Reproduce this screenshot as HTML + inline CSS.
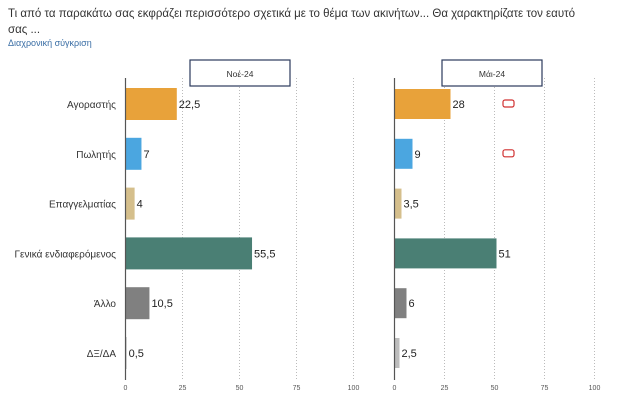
<!DOCTYPE html>
<html><head><meta charset="utf-8"><style>
body{margin:0;width:624px;height:401px;background:#fff;overflow:hidden;font-family:"Liberation Sans","DejaVu Sans",sans-serif}
</style></head><body>
<svg id="c" width="624" height="401" xmlns="http://www.w3.org/2000/svg">
<text x="8" y="17" font-size="11.5" fill="#333">Τι από τα παρακάτω σας εκφράζει περισσότερο σχετικά με το θέμα των ακινήτων... Θα χαρακτηρίζατε τον εαυτό</text>
<text x="8" y="33" font-size="11.5" fill="#333">σας ...</text>
<text x="8" y="46" font-size="9" fill="#3A6EA5">Διαχρονική σύγκριση</text>
</svg>
<script>
const categories=["Αγοραστής","Πωλητής","Επαγγελματίας","Γενικά ενδιαφερόμενος","Άλλο","ΔΞ/ΔΑ"];
const nov24=[22.5,7,4,55.5,10.5,0.5];
const may24=[28,9,3.5,51,6,2.5];
const novLabels=["22,5","7","4","55,5","10,5","0,5"];
const mayLabels=["28","9","3,5","51","6","2,5"];
const ticks=[0,25,50,75,100];
const colors=["#E8A23A","#4BA6E0","#D5BF8C","#4A7F74","#808080","#BDBDBD"];
const svg=document.getElementById('c');
const NS="http://www.w3.org/2000/svg";
function mk(t,a,p){const e=document.createElementNS(NS,t);for(const k in a)e.setAttribute(k,a[k]);(p||svg).appendChild(e);return e;}
const rowY=i=>104+i*49.8;
function panel(x0,scale,vals,labs,title,bx,bh,name){
  const x=v=>x0+v*scale;
  const g=mk('g',{});
  
  
  ticks.forEach(t=>{
    if(t>0){const l=mk('line',{x1:x(t),x2:x(t),y1:78,y2:380,stroke:'#bbb','stroke-dasharray':'1,2'},g);
    }
    const tx=mk('text',{x:x(t),y:390,'font-size':7,fill:'#555','text-anchor':'middle'},g);
    tx.textContent=t;
    
  });
  vals.forEach((v,i)=>{
    const r=mk('rect',{x:x0,y:rowY(i)-bh/2,width:Math.max(x(v)-x0,1),height:bh,fill:colors[i]},g);
    
    const t=mk('text',{x:x(v)+2,y:rowY(i)+4,'font-size':11,fill:'#222'},g);
    t.textContent=labs[i];
    
  });
  const ax=mk('line',{x1:x0,x2:x0,y1:78,y2:380,stroke:'#555','stroke-width':1.2},g);
  
  const b=mk('rect',{x:bx,y:60,width:100,height:26,fill:'#fff',stroke:'#2B3A5C','stroke-width':1.2},g);
  
  const bt=mk('text',{x:bx+50,y:77,'font-size':8.5,fill:'#333','text-anchor':'middle'},g);
  bt.textContent=title;
  
}
categories.forEach((c,i)=>{
  const t=mk('text',{x:116,y:rowY(i)+4,'font-size':10,fill:'#333','text-anchor':'end'});
  t.textContent=c;
  
  
});
panel(125.5,2.28,nov24,novLabels,"Νοέ-24",190,32,'panel-nov24');
panel(394.5,2.0,may24,mayLabels,"Μάι-24",442,30,'panel-may24');
[0,1].forEach(i=>{
  const r=mk('rect',{x:503,y:rowY(i)-4,width:11,height:7,rx:2,fill:'none',stroke:'#D03030','stroke-width':1.2});
  
  
});
</script>
</body></html>
